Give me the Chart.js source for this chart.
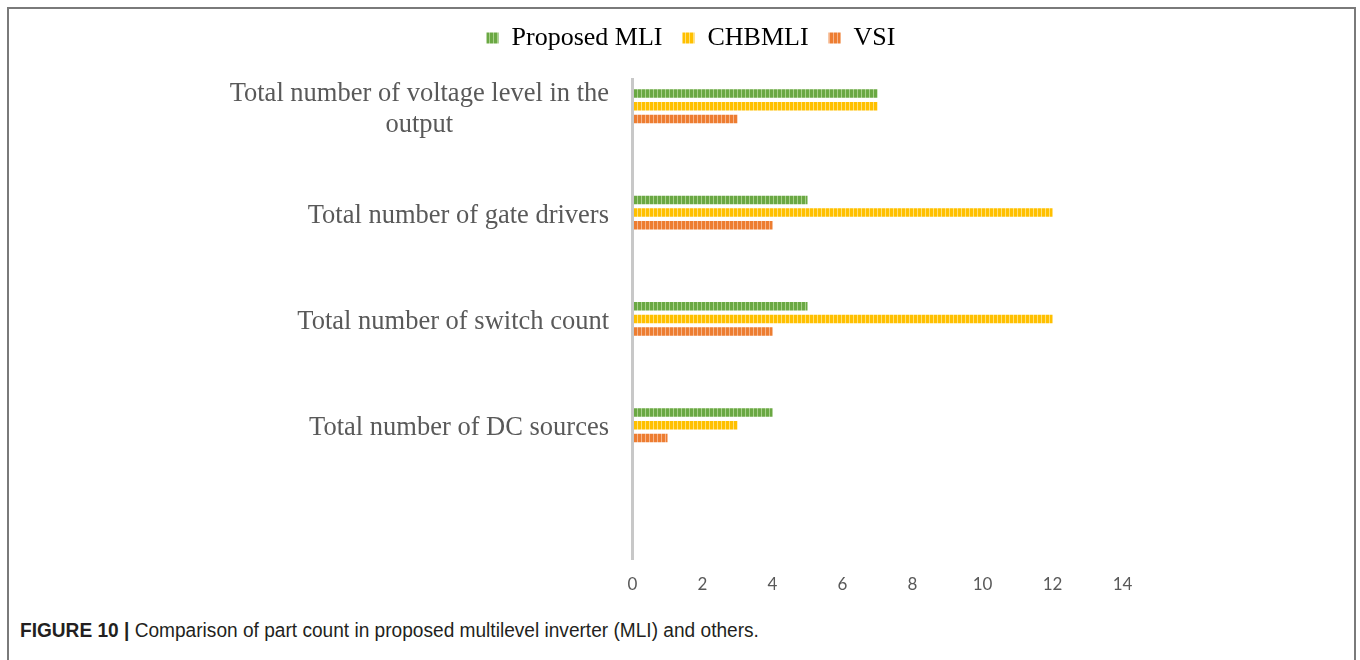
<!DOCTYPE html>
<html>
<head>
<meta charset="utf-8">
<script src="https://cdn.jsdelivr.net/npm/chart.js@4"></script>
<style>
  body { margin: 0; width: 1360px; height: 660px; background: #fff; overflow: hidden; position: relative; }
  #frame { position: absolute; left: 7px; top: 7px; width: 1349px; height: 700px; border: 2px solid #7a7a7a; box-sizing: border-box; }
  #grafikoa { position: absolute; left: 22px; top: 0; }
  #caption { position: absolute; left: 20px; top: 619px; font-family: 'Liberation Sans', sans-serif; font-size: 20px; color: #231f20; white-space: nowrap; transform: scaleX(0.955); transform-origin: 0 0; }
</style>
</head>
<body>
<div id="frame"></div>
<canvas id="grafikoa" width="1338" height="600"></canvas>
<div id="caption"><b>FIGURE 10 |</b> Comparison of part count in proposed multilevel inverter (MLI) and others.</div>
<script>
const categories = [
  ['Total number of voltage level in the', 'output'],
  'Total number of gate drivers',
  'Total number of switch count',
  'Total number of DC sources'
];
const proposedMLI = [7, 5, 5, 4];
const chbmli = [7, 12, 12, 3];
const vsi = [3, 4, 4, 1];
const xMin = 0, xMax = 14, xStep = 2;

const ctx = document.getElementById('grafikoa').getContext('2d');

// excel style "dark vertical" pattern fill
function stripes(base, light) {
  const c = document.createElement('canvas');
  c.width = 4; c.height = 4;
  const g = c.getContext('2d');
  g.fillStyle = base;
  g.fillRect(0, 0, 4, 4);
  g.fillStyle = light;
  g.fillRect(3, 0, 1, 4);
  return ctx.createPattern(c, 'repeat');
}

// category labels: block right-aligned, lines centred inside it
const yLabels = {
  id: 'yLabels',
  afterDraw(chart) {
    const s = chart.scales.y, c = chart.ctx;
    c.save();
    c.font = '26.5px "Liberation Serif"';
    c.fillStyle = '#595959';
    c.textAlign = 'center';
    c.textBaseline = 'middle';
    const right = s.right - 23.5;
    chart.data.labels.forEach((lab, i) => {
      const lines = Array.isArray(lab) ? lab : [lab];
      const w = Math.max(...lines.map(t => c.measureText(t).width));
      const y = s.getPixelForTick(i) + 3;
      lines.forEach((t, j) => c.fillText(t, right - w / 2, y + (j - (lines.length - 1) / 2) * 31.5));
    });
    c.restore();
  }
};

const hidden = {
  type: 'linear',
  display: true,
  grid: { display: false },
  border: { display: false },
  ticks: { display: false }
};

new Chart(ctx, {
  type: 'bar',
  data: {
    labels: categories,
    datasets: [
      { label: 'Proposed MLI', data: proposedMLI, backgroundColor: stripes('#6aa843', '#a8d08a'), borderWidth: 0 },
      { label: 'CHBMLI', data: chbmli, backgroundColor: stripes('#ffc000', '#ffe07a'), borderWidth: 0 },
      { label: 'VSI', data: vsi, backgroundColor: stripes('#ed7d31', '#f6b48a'), borderWidth: 0 }
    ]
  },
  options: {
    indexAxis: 'y',
    responsive: false,
    animation: false,
    layout: { padding: { top: 5, left: 0, right: 0, bottom: 0 } },
    datasets: { bar: { categoryPercentage: 0.3585, barPercentage: 0.67 } },
    plugins: {
      legend: {
        position: 'top',
        labels: {
          font: { family: 'Liberation Serif', size: 26 },
          color: '#000',
          boxWidth: 12,
          boxHeight: 11,
          padding: 20
        }
      },
      tooltip: { enabled: false }
    },
    scales: {
      x: {
        type: 'linear',
        min: xMin,
        max: xMax,
        ticks: { stepSize: xStep, color: '#595959', font: { family: 'Lato', size: 17 }, padding: 15 },
        grid: { display: false, drawTicks: false },
        border: { display: false },
        afterFit: s => { s.height = 41; }
      },
      y: {
        type: 'category',
        grid: { display: false, drawTicks: false },
        ticks: { display: false },
        border: { display: true, color: '#c8c8c8', width: 3, z: 1 },
        afterFit: s => { s.width = 610.5; },
        afterUpdate: s => { s._startValue = -0.257; s._valueRange = 4.516; }
      },
      yRight: Object.assign({}, hidden, { position: 'right', afterFit: s => { s.width = 237.5; } }),
      xTop: Object.assign({}, hidden, { position: 'top', afterFit: s => { s.height = 18; } })
    }
  },
  plugins: [yLabels]
});
</script>
</body>
</html>
